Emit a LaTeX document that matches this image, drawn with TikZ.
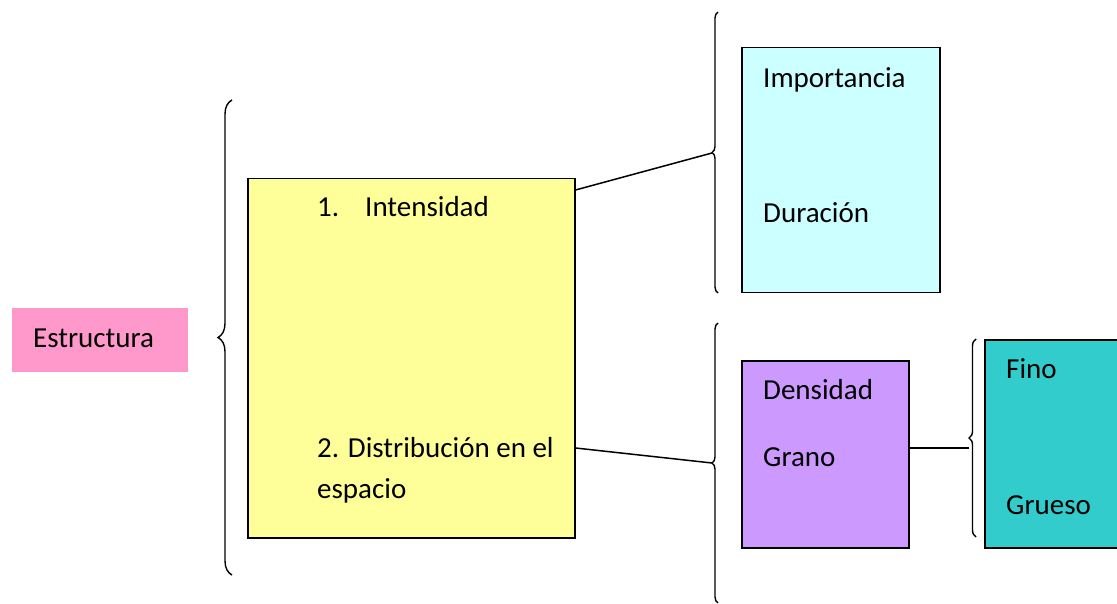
\documentclass[tikz,border=0pt]{standalone}
\usepackage{fontspec}
\setmainfont{Carlito}
\usetikzlibrary{decorations.pathreplacing}

\definecolor{pinkfill}{HTML}{FF99CC}
\definecolor{yellowfill}{HTML}{FFFF99}
\definecolor{cyanfill}{HTML}{CCFFFF}
\definecolor{lilacfill}{HTML}{CC99FF}
\definecolor{tealfill}{HTML}{33CCCC}

\begin{document}
\begin{tikzpicture}[x=1pt, y=-1pt]
        \useasboundingbox (0,0) rectangle (1117,604);

        % boxes
        \begin{scope}[every node/.style={draw, line width=1.5pt, anchor=north west, inner sep=0pt}]
        \node[draw=none, fill=pinkfill, minimum width=176pt, minimum height=64pt] (E) at (11,307) {};
        \node[fill=yellowfill, minimum width=327pt, minimum height=359pt] (Y) at (247,178) {};
        \node[fill=cyanfill, minimum width=198pt, minimum height=245pt] (C) at (741,47) {};
        \node[fill=lilacfill, minimum width=167pt, minimum height=187pt] (L) at (741,360) {};
        \node[fill=tealfill, minimum width=150pt, minimum height=208pt] (T) at (984,339) {};
        \end{scope}

        % texts
        \begin{scope}[every node/.style={anchor=base west, inner sep=0pt, font=\fontsize{29}{35}\selectfont}]
        \node (estr) at (33,347) {Estructura};
        \node (n1) at (317,217) {1.};
        \node (inten) at (365,217) {Intensidad};
        \node (distr) at (317,457) {2. Distribución en el};
        \node (esp) at (317,498) {espacio};
        \node (imp) at (763,88) {Importancia};
        \node (dur) at (763,223) {Duración};
        \node (dens) at (763,399) {Densidad};
        \node (gra) at (763,466) {Grano};
        \node (fino) at (1006,378) {Fino};
        \node (grue) at (1006,514) {Grueso};
        \end{scope}

        % braces
        \coordinate (B1a) at (232,575);
        \coordinate (B1b) at (232,100);
        \coordinate (B2a) at (718,293);
        \coordinate (B2b) at (718,12);
        \coordinate (B2tip) at (712,153);
        \coordinate (B3a) at (718,603);
        \coordinate (B3b) at (718,323);
        \coordinate (B3tip) at (712,463);
        \coordinate (B4a) at (976,537);
        \coordinate (B4b) at (976,339);
        \coordinate (B4tip) at (969,448);

        \begin{scope}[line width=1.4pt, decoration={brace}]
        \draw[decorate, decoration={amplitude=14pt}] (B1a) -- (B1b);
        \draw[decorate, decoration={amplitude=6pt}] (B2a) -- (B2b);
        \draw[decorate, decoration={amplitude=6pt}] (B3a) -- (B3b);
        \draw[decorate, decoration={amplitude=7pt}] (B4a) -- (B4b);
        \end{scope}

        % connectors
        \begin{scope}[line width=1.5pt]
        \draw ([yshift=-12pt]Y.north east) -- (B2tip);
        \draw ([yshift=-270pt]Y.north east) -- (B3tip);
        \draw ([yshift=-88pt]L.north east) -- (B4tip);
        \end{scope}
    \end{tikzpicture}
\end{document}
